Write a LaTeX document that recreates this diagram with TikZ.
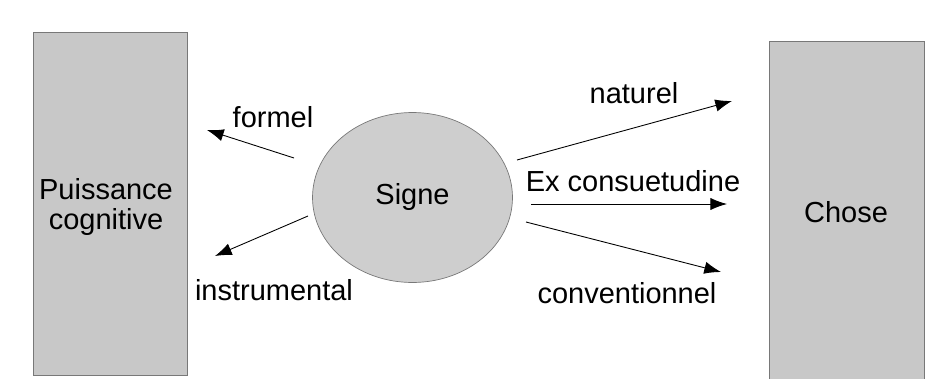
\documentclass[tikz,border=0pt]{standalone}
\usepackage{fontspec}
\setmainfont{Liberation Sans}
\usetikzlibrary{arrows.meta,shapes.geometric}
\definecolor{boxgray}{RGB}{200,200,200}
\definecolor{signgray}{RGB}{206,206,206}
\definecolor{edgegray}{RGB}{120,120,120}
\tikzset{%
  >={Latex[length=9.5pt,width=7pt]}, % filled arrow tips
  inner sep=0pt,%
  outer sep=0pt,%
  pole/.style={draw=edgegray,fill=boxgray,line width=0.4pt},%
  sign/.style={ellipse,draw=edgegray,fill=signgray,line width=0.4pt,
    minimum width=4cm,minimum height=3.4cm},%
  mode/.style={font=\fontsize{16.5}{19}\selectfont},%
  link/.style={->,line width=0.5pt}%
}

\begin{document}
\begin{tikzpicture}[x=0.02cm,y=-0.02cm] % pixel grid, y downwards

\useasboundingbox (0,0) rectangle (934,379);

% the two poles
\filldraw[pole] (33,32) rectangle (187,375);
\filldraw[pole] (769,41) rectangle (924,379);
\node[mode,align=center] (puissance) at (106,207) {Puissance\\[-2pt]cognitive};
\node[mode] (chose) at (846,212) {Chose};

% the sign in the middle
\node[sign,mode] (signe) at (412.5,197.5) {Signe};

% ends of the arrows
\coordinate (fs) at (294,158);  \coordinate (fe) at (207,130);
\coordinate (is) at (308,216);  \coordinate (ie) at (215,256);
\coordinate (ns) at (517,160);  \coordinate (ne) at (732,101);
\coordinate (es) at (531,204);  \coordinate (ee) at (727,204);
\coordinate (cs) at (526,222);  \coordinate (ce) at (721,272);

\draw[link] (fs) -- (fe);
\draw[link] (is) -- (ie);
\draw[link] (ns) -- (ne);
\draw[link] (es) -- (ee);
\draw[link] (cs) -- (ce);

% the modes of signifying
\node[mode] (formel) at (273,117) {formel};
\node[mode] (instrumental) at (274,290) {instrumental};
\node[mode] (naturel) at (634,93) {naturel};
\node[mode] (consuetudine) at (633,181) {Ex consuetudine};
\node[mode] (conventionnel) at (627,293) {conventionnel};

\end{tikzpicture}
\end{document}
